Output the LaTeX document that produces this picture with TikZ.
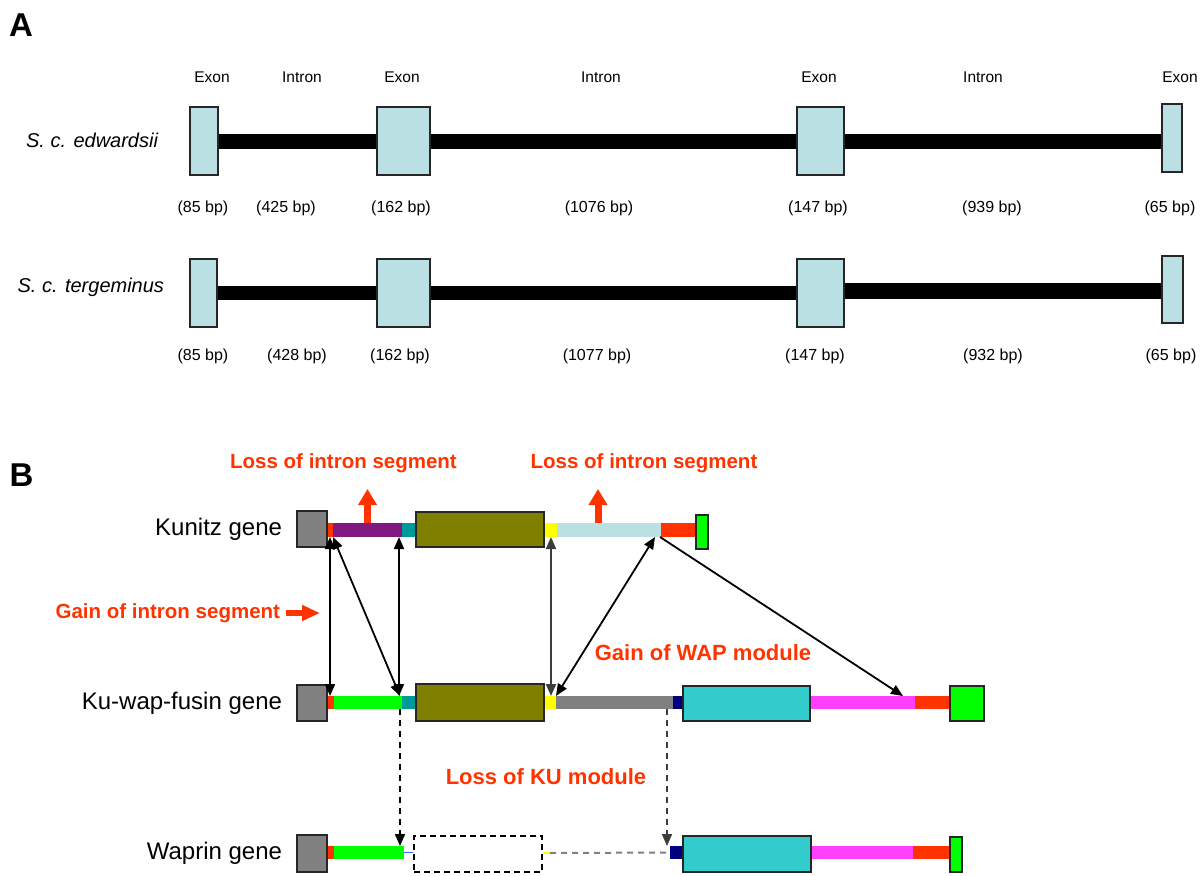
\documentclass[tikz,border=0pt]{standalone}
\usepackage{fontspec}
\setmainfont{Liberation Sans}
\usetikzlibrary{arrows.meta}

\definecolor{exonfill}{RGB}{186,224,227}
\definecolor{boxgray}{RGB}{128,128,128}
\definecolor{segred}{RGB}{255,51,0}
\definecolor{txtred}{RGB}{255,51,0}
\definecolor{segpurple}{RGB}{128,24,128}
\definecolor{segteal}{RGB}{0,153,153}
\definecolor{segolive}{RGB}{128,128,0}
\definecolor{segyellow}{RGB}{255,255,0}
\definecolor{seglightblue}{RGB}{186,224,227}
\definecolor{seggreen}{RGB}{0,255,0}
\definecolor{segnavy}{RGB}{0,0,128}
\definecolor{segcyan}{RGB}{51,204,204}
\definecolor{segmagenta}{RGB}{255,64,255}
\definecolor{segblue}{RGB}{51,102,255}
\definecolor{darkline}{RGB}{60,60,60}

\newcommand\setfs[1]{\fontsize{#1}{#1}\selectfont}

\begin{document}
\begin{tikzpicture}[x=1pt,y=-1pt,
  >={Triangle[length=12pt,width=10pt]},
  lbl/.style={inner sep=0pt, outer sep=0pt},
  small/.style={lbl, font=\setfs{15.5}},
  bp/.style={lbl, font=\setfs{16}},
  species/.style={lbl, font=\setfs{20}\itshape, anchor=east},
  panel/.style={lbl, font=\setfs{33}\bfseries},
  genename/.style={lbl, font=\setfs{24}, anchor=east},
  redlbl/.style={lbl, text=txtred, font=\setfs{20.5}\bfseries},
  exonbox/.style={draw=black!85, line width=2pt, fill=exonfill, inner sep=0pt},
  intron/.style={draw=black, line width=15pt},
  gbox/.style={draw=black!85, line width=2pt, inner sep=0pt},
  segbar/.style={inner sep=0pt, outer sep=0pt, minimum height=14pt},
  segbarb/.style={inner sep=0pt, outer sep=0pt, minimum height=13pt},
  link/.style={draw=black, line width=1.8pt},
  dashlink/.style={line width=1.8pt, dash pattern=on 6pt off 5pt, ->},
  bigarrow/.style={draw=txtred, line width=7pt, -{Triangle[length=16pt,width=18pt]}}
]
\useasboundingbox (0,0) rectangle (1204,875);

%================ Panel A ================
\node[panel] (pa) at (21,25) {A};

% column headings
\node[small] (h1) at (212,77) {Exon};
\node[small] (h2) at (302,77) {Intron};
\node[small] (h3) at (402,77) {Exon};
\node[small] (h4) at (601,77) {Intron};
\node[small] (h5) at (819,77) {Exon};
\node[small] (h6) at (983,77) {Intron};
\node[small] (h7) at (1180,77) {Exon};

% S. c. edwardsii: introns first, exon boxes on top
\coordinate (r1a) at (204,141);
\coordinate (r1b) at (403.5,141);
\coordinate (r1c) at (820,141);
\coordinate (r1d) at (1172,138);
\node[species] (sp1) at (158,140) {S. c. edwardsii};
\draw[intron] (r1a) -- (r1b);
\draw[intron] (r1b) -- (r1c);
\draw[intron] (r1c) -- (r1c -| r1d);
\node[exonbox, minimum width=28pt, minimum height=68pt] (e11) at (r1a) {};
\node[exonbox, minimum width=53pt, minimum height=68pt] (e12) at (r1b) {};
\node[exonbox, minimum width=47pt, minimum height=68pt] (e13) at (r1c) {};
\node[exonbox, minimum width=20pt, minimum height=68pt] (e14) at (r1d) {};

\node[bp] (b11) at (203,208) {(85 bp)};
\node[bp] (b12) at (286,208) {(425 bp)};
\node[bp] (b13) at (401,208) {(162 bp)};
\node[bp] (b14) at (599,208) {(1076 bp)};
\node[bp] (b15) at (818,208) {(147 bp)};
\node[bp] (b16) at (992,208) {(939 bp)};
\node[bp] (b17) at (1170,208) {(65 bp)};

% S. c. tergeminus
\coordinate (r2a) at (203.5,293);
\coordinate (r2b) at (403,293);
\coordinate (r2c) at (820,293);
\coordinate (r2d) at (1172.5,289.5);
\node[species] (sp2) at (164,287) {S. c. tergeminus};
\draw[intron, line width=14pt] (r2a) -- (r2b);
\draw[intron, line width=14pt] (r2b) -- (r2c);
\draw[intron, line width=16pt] ([yshift=2pt]r2c) -- ([yshift=2pt]r2c -| r2d);
\node[exonbox, minimum width=27pt, minimum height=68pt] (e21) at (r2a) {};
\node[exonbox, minimum width=53pt, minimum height=68pt] (e22) at (r2b) {};
\node[exonbox, minimum width=47pt, minimum height=68pt] (e23) at (r2c) {};
\node[exonbox, minimum width=21pt, minimum height=67pt] (e24) at (r2d) {};

\node[bp] (b21) at (203,356) {(85 bp)};
\node[bp] (b22) at (297,356) {(428 bp)};
\node[bp] (b23) at (400,356) {(162 bp)};
\node[bp] (b24) at (597,356) {(1077 bp)};
\node[bp] (b25) at (815,356) {(147 bp)};
\node[bp] (b26) at (993,356) {(932 bp)};
\node[bp] (b27) at (1171,356) {(65 bp)};

%================ Panel B ================
\node[panel] (pb) at (21.5,475.5) {B};

% Kunitz gene
\node[genename] (kname) at (282,529) {Kunitz gene};
\node[segbar, fill=segred, minimum width=6pt] (kred) at (330,530) {};
\node[segbar, fill=segpurple, minimum width=69pt] (kpurp) at (367.5,530) {};
\node[segbar, fill=segteal, minimum width=14pt] (kteal) at (409,530) {};
\node[segbar, fill=segyellow, minimum width=13pt] (kyel) at (550.5,530) {};
\node[segbar, fill=seglightblue, minimum width=104pt] (klb) at (609,530) {};
\node[segbar, fill=segred, minimum width=35pt] (kred2) at (678.5,530) {};
\node[gbox, fill=boxgray, minimum width=30pt, minimum height=36pt] (kgray) at (312,529) {};
\node[gbox, fill=segolive, minimum width=128pt, minimum height=35pt] (kolive) at (480,529.5) {};
\node[gbox, fill=seggreen, minimum width=12pt, minimum height=34pt] (kgreen) at (702,532) {};

% Ku-wap-fusin gene
\node[genename] (wname) at (282,703) {Ku-wap-fusin gene};
\node[segbarb, fill=segred, minimum width=7pt] (wred) at (330.5,702.5) {};
\node[segbarb, fill=seggreen, minimum width=68pt] (wgreen) at (368,702.5) {};
\node[segbarb, fill=segteal, minimum width=14pt] (wteal) at (409,702.5) {};
\node[segbarb, fill=segyellow, minimum width=12pt] (wyel) at (550,702.5) {};
\node[segbarb, fill=boxgray, minimum width=117pt] (wgraybar) at (614.5,702.5) {};
\node[segbarb, fill=segnavy, minimum width=10pt] (wnavy) at (678,702.5) {};
\node[segbarb, fill=segmagenta, minimum width=105pt] (wmag) at (862.5,702.5) {};
\node[segbarb, fill=segred, minimum width=35pt] (wred2) at (932.5,702.5) {};
\node[gbox, fill=boxgray, minimum width=30pt, minimum height=36pt] (wgray) at (312,703) {};
\node[gbox, fill=segolive, minimum width=128pt, minimum height=37pt] (wolive) at (480,702.5) {};
\node[gbox, fill=segcyan, minimum width=127pt, minimum height=35pt] (wcyan) at (746.5,703.5) {};
\node[gbox, fill=seggreen, minimum width=34pt, minimum height=35pt] (wgreenbox) at (967,703.5) {};

% Waprin gene
\node[genename] (pname) at (282,853) {Waprin gene};
\node[segbarb, fill=segred, minimum width=7pt] (pred) at (330.5,852.5) {};
\node[segbarb, fill=seggreen, minimum width=70pt] (pgreen) at (369,852.5) {};
\node[segbarb, fill=segnavy, minimum width=13pt] (pnavy) at (676.5,852.5) {};
\node[segbarb, fill=segmagenta, minimum width=102pt] (pmag) at (862,852.5) {};
\node[segbarb, fill=segred, minimum width=37pt] (pred2) at (931.5,852.5) {};
\node[gbox, fill=boxgray, minimum width=30pt, minimum height=37pt] (pgray) at (312,853.5) {};
\node[gbox, draw=black, dash pattern=on 6pt off 4pt, minimum width=128pt, minimum height=36pt] (pdash) at (478,854) {};
\node[gbox, fill=segcyan, minimum width=128pt, minimum height=36pt] (pcyan) at (747,854) {};
\node[gbox, fill=seggreen, minimum width=12pt, minimum height=35pt] (pgreenbox) at (956,854.5) {};
\coordinate (pyend) at (550,853);
\draw[segblue, line width=1.5pt] (pgreen.east) -- (pdash.west |- pgreen.east);
\draw[segyellow, line width=1.5pt] (pdash.east |- pyend) -- (pyend);
\draw[boxgray, line width=2pt, dash pattern=on 6pt off 5pt] (pyend) -- (pnavy.west);

% correspondences between Kunitz and Ku-wap-fusin
\draw[link, <->] (kred.south) -- (kred.south |- wred.north);
\draw[link, <->] (kred.south east) -- ([xshift=-2pt]wgreen.north east);
\draw[link, <->] ([xshift=-3pt]kteal.south west) -- ([xshift=-3pt]wteal.north west);
\draw[link, draw=darkline, line width=2pt, <->] ([xshift=0.5pt]kyel.south) -- ([xshift=0.5pt]kyel.south |- wyel.north);
\draw[link, <->] ([xshift=-6pt]klb.south east) -- (wyel.north east);
\draw[link, ->] ([xshift=-1pt]klb.south east) -- ([xshift=-12pt]wmag.north east);

% correspondences between Ku-wap-fusin and Waprin
\draw[dashlink, draw=black] ([xshift=-2pt]wteal.south west) -- ([xshift=-2pt]wteal.south west |- pgreen.north);
\draw[dashlink, draw=darkline] ([xshift=-6pt]wgraybar.south east) -- ([xshift=-6pt]wgraybar.south east |- pnavy.north);

% annotations
\node[redlbl] (loss1) at (343.5,463) {Loss of intron segment};
\node[redlbl] (loss2) at (644,463) {Loss of intron segment};
\coordinate (up1) at (367.5,489);
\coordinate (up2) at (598,489);
\draw[bigarrow] (kpurp.north) -- (up1);
\draw[bigarrow] (up2 |- klb.north) -- (up2);

\node[redlbl, anchor=east] (gainint) at (280,613) {Gain of intron segment};
\coordinate (gtip) at (320,613);
\draw[bigarrow, line width=6pt, -{Triangle[length=18pt,width=15pt]}] ([xshift=6pt]gainint.east) -- (gtip);

\node[redlbl, font=\setfs{22}\bfseries] (gainwap) at (703,653) {Gain of WAP module};
\node[redlbl, font=\setfs{22}\bfseries] (lossku) at (546,777) {Loss of KU module};
\end{tikzpicture}
\end{document}
